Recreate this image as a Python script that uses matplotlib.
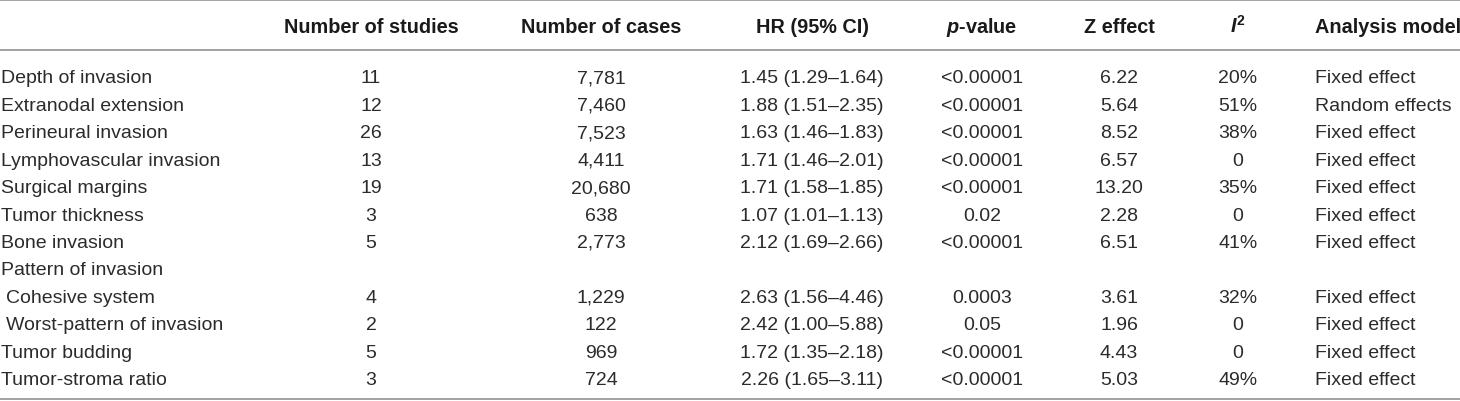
import matplotlib
matplotlib.use("Agg")
import matplotlib.pyplot as plt

plt.rcParams['font.family'] = ['Liberation Sans', 'DejaVu Sans']
plt.rcParams['mathtext.fontset'] = 'custom'
plt.rcParams['mathtext.it'] = 'Liberation Sans:italic:bold'
plt.rcParams['mathtext.rm'] = 'Liberation Sans:bold'
plt.rcParams['mathtext.bf'] = 'Liberation Sans:bold'

# Table content
headers = ["Number of studies", "Number of cases", "HR (95% CI)",
           r"$\mathit{p}$-value", "Z effect", r"$\mathit{I}^{2}$", "Analysis model"]

labels = ["Depth of invasion", "Extranodal extension", "Perineural invasion",
          "Lymphovascular invasion", "Surgical margins", "Tumor thickness",
          "Bone invasion", "Pattern of invasion", "Cohesive system",
          "Worst-pattern of invasion", "Tumor budding", "Tumor-stroma ratio"]
indented = [False] * 8 + [True, True, False, False]

studies = ["11", "12", "26", "13", "19", "3", "5", "", "4", "2", "5", "3"]
cases = ["7,781", "7,460", "7,523", "4,411", "20,680", "638", "2,773", "",
         "1,229", "122", "969", "724"]
hr = ["1.45 (1.29–1.64)", "1.88 (1.51–2.35)", "1.63 (1.46–1.83)",
      "1.71 (1.46–2.01)", "1.71 (1.58–1.85)", "1.07 (1.01–1.13)",
      "2.12 (1.69–2.66)", "", "2.63 (1.56–4.46)", "2.42 (1.00–5.88)",
      "1.72 (1.35–2.18)", "2.26 (1.65–3.11)"]
pvals = ["<0.00001", "<0.00001", "<0.00001", "<0.00001", "<0.00001", "0.02",
         "<0.00001", "", "0.0003", "0.05", "<0.00001", "<0.00001"]
zeff = ["6.22", "5.64", "8.52", "6.57", "13.20", "2.28", "6.51", "",
        "3.61", "1.96", "4.43", "5.03"]
i2 = ["20%", "51%", "38%", "0", "35%", "0", "41%", "", "32%", "0", "0", "49%"]
model = ["Fixed effect", "Random effects", "Fixed effect", "Fixed effect",
         "Fixed effect", "Fixed effect", "Fixed effect", "", "Fixed effect",
         "Fixed effect", "Fixed effect", "Fixed effect"]

# layout (pixel coordinates, baselines)
W, H = 1460, 402
col_x = [371, 601, 812, 982, 1119, 1238, 1315]
col_ha = ["center"] * 6 + ["left"]
header_base = 33
row_base0, row_dy = 83.3, 27.45
txt = "#2b2b2b"
head_c = "#1a1a1a"
line_c = "#9a9a9a"
fs_head = 14.3
fs = 14.0

fig = plt.figure(figsize=(W / 100, H / 100), dpi=100)
ax = fig.add_axes([0, 0, 1, 1])
ax.set_xlim(0, W)
ax.set_ylim(H, 0)
ax.axis("off")

for yl in [1, 51, 400]:
    ax.axhline(yl, color=line_c, lw=1.3)

for x, ha, h in zip(col_x, col_ha, headers):
    ax.text(x, header_base, h, ha=ha, va="baseline", fontsize=fs_head,
            fontweight="bold", color=head_c)

columns = [studies, cases, hr, pvals, zeff, i2, model]
for i, lab in enumerate(labels):
    y = row_base0 + i * row_dy
    ax.text(6 if indented[i] else 1, y, lab, ha="left", va="baseline",
            fontsize=fs, color=txt)
    for x, ha, col in zip(col_x, col_ha, columns):
        ax.text(x, y, col[i], ha=ha, va="baseline", fontsize=fs, color=txt)

fig.savefig("out.png", dpi=100)
